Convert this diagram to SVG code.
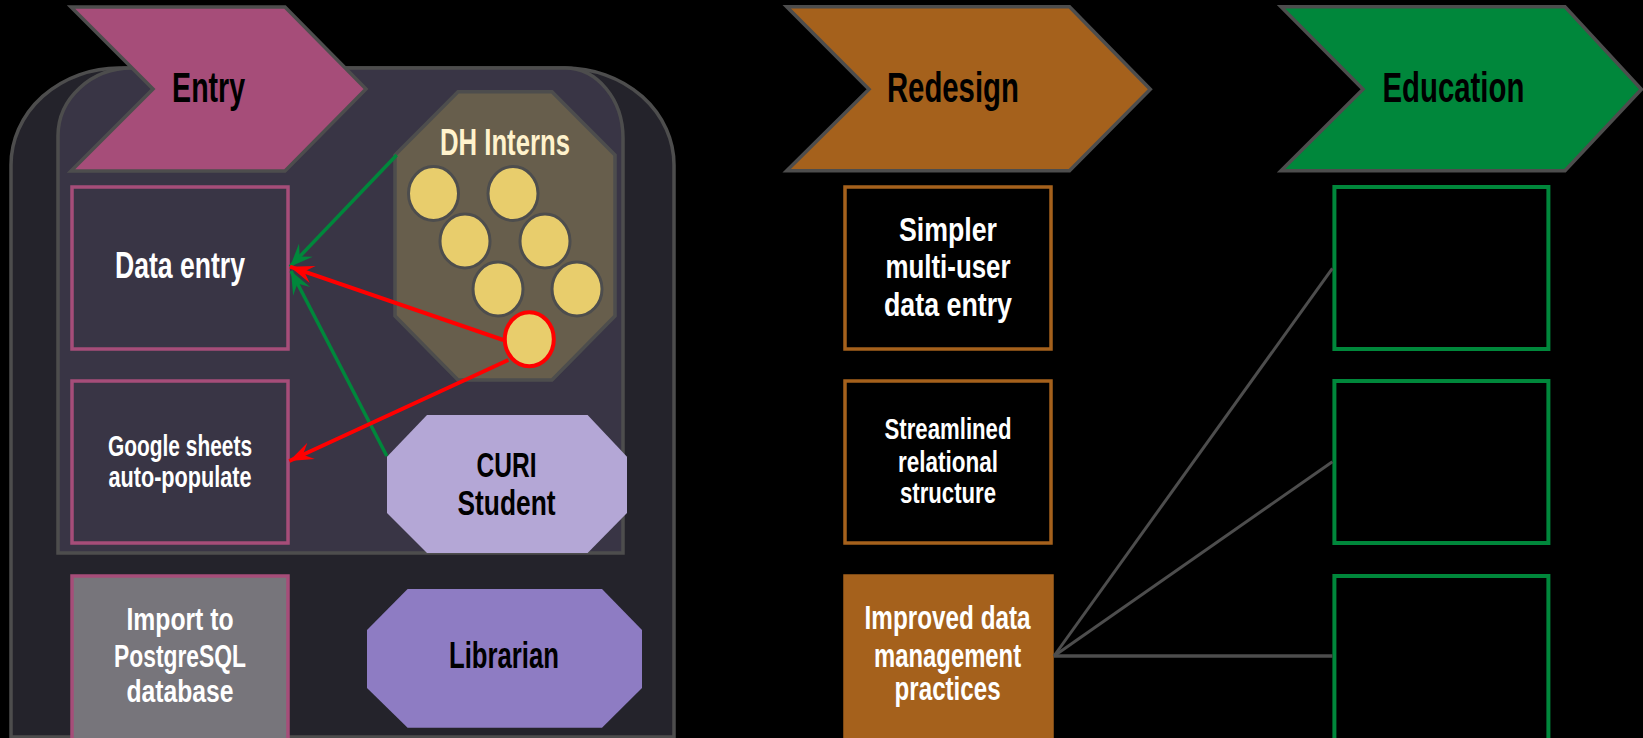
<svg xmlns="http://www.w3.org/2000/svg" width="1643" height="738" viewBox="0 0 1643 738">
<style>
text{font-family:"Liberation Sans Narrow","Liberation Sans",Arial,sans-serif;text-anchor:middle;font-weight:bold}
.hd{font-size:42px;fill:#000}
.wt{fill:#fff}
.bk{fill:#000}
.gs{stroke:#4d4d4d;stroke-width:3.5;stroke-linejoin:miter}
.mg{fill:#393545;stroke:#a64d79;stroke-width:3.5}
.or{fill:#000;stroke:#a5611c;stroke-width:3.5}
.gr{fill:#000;stroke:#00873b;stroke-width:4}
.dot{fill:#e8cd6c;stroke:#4d4d4d;stroke-width:3}
</style>
<defs>
<marker id="ahR" markerUnits="userSpaceOnUse" markerWidth="30" markerHeight="24" viewBox="-27 -12 30 24" refX="0" refY="0" orient="auto">
<path d="M0,0 L-24,-9 L-15,0 L-24,9 Z" fill="#ff0000"/>
</marker>
<marker id="ahG" markerUnits="userSpaceOnUse" markerWidth="30" markerHeight="24" viewBox="-27 -12 30 24" refX="0" refY="0" orient="auto">
<path d="M0,0 L-23,-9.5 L-14,0 L-23,9.5 Z" fill="#00873b"/>
</marker>
</defs>
<rect width="1643" height="738" fill="#000"/>

<g id="entry-lane">
<path class="gs" d="M11,740 L11,165 A108,97 0 0 1 119,68 L565,68 A109,97 0 0 1 674,165 L674,737 L11,737" fill="#24232b"/>
<path class="gs" d="M58,553 L58,136 A74,68 0 0 1 132,68 L565,68 A58,70 0 0 1 623,138 L623,553 Z" fill="#393545"/>
</g>

<g id="entry">
<path class="gs" d="M71,7 L285,7 L366,89 L285,171 L71,171 L153,89 Z" fill="#a64d79"/>
<text class="hd" x="208.6" y="102" textLength="73" lengthAdjust="spacingAndGlyphs">Entry</text>
</g>

<g id="data-entry">
<rect class="mg" x="72" y="187" width="216" height="162"/>
<text class="wt" x="180" y="278" font-size="37" textLength="130" lengthAdjust="spacingAndGlyphs">Data entry</text>
</g>

<g id="google-sheets">
<rect class="mg" x="72" y="381" width="216" height="162"/>
<text class="wt" x="180" y="456" font-size="29" textLength="144" lengthAdjust="spacingAndGlyphs">Google sheets</text>
<text class="wt" x="180" y="487" font-size="29" textLength="143" lengthAdjust="spacingAndGlyphs">auto-populate</text>
</g>

<g id="import">
<rect x="72" y="576" width="216" height="200" fill="#77757b" stroke="#a64d79" stroke-width="3.5"/>
<text class="wt" x="180" y="630" font-size="32" textLength="107" lengthAdjust="spacingAndGlyphs">Import to</text>
<text class="wt" x="180" y="667" font-size="32" textLength="132" lengthAdjust="spacingAndGlyphs">PostgreSQL</text>
<text class="wt" x="180" y="702" font-size="32" textLength="107" lengthAdjust="spacingAndGlyphs">database</text>
</g>

<g id="dh-interns">
<path class="gs" d="M458,91.7 L552,91.7 L615,155 L615,316 L552,380 L458,380 L395,316 L395,155 Z" fill="#675e4c"/>
<text x="505" y="155" font-size="36" fill="#fff2cc" textLength="130" lengthAdjust="spacingAndGlyphs">DH Interns</text>
<ellipse class="dot" cx="433.5" cy="193.5" rx="25" ry="27"/>
<ellipse class="dot" cx="513" cy="193.5" rx="25" ry="27"/>
<ellipse class="dot" cx="465" cy="241" rx="25" ry="27"/>
<ellipse class="dot" cx="545" cy="241" rx="25" ry="27"/>
<ellipse class="dot" cx="498" cy="289" rx="25" ry="27"/>
<ellipse class="dot" cx="577" cy="289" rx="25" ry="27"/>
</g>

<g id="curi-student">
<path d="M427,415 L587.6,415 L627,456.7 L627,513 L587.6,553 L427,553 L387,513 L387,456.7 Z" fill="#b4a7d6"/>
<text class="bk" x="506.5" y="477" font-size="35" textLength="60" lengthAdjust="spacingAndGlyphs">CURI</text>
<text class="bk" x="506.5" y="515" font-size="35" textLength="98" lengthAdjust="spacingAndGlyphs">Student</text>
</g>

<g id="librarian">
<path d="M407.6,589 L602,589 L642,630 L642,688 L602,727.7 L407.6,727.7 L367,688 L367,630 Z" fill="#8e7cc3"/>
<text class="bk" x="504" y="668" font-size="37" textLength="110" lengthAdjust="spacingAndGlyphs">Librarian</text>
</g>

<g id="redesign">
<path class="gs" d="M786.7,6.7 L1069.5,6.7 L1150.3,89.3 L1069.5,170.7 L786.7,170.7 L869,89.3 Z" fill="#a5611c"/>
<text class="hd" x="952.9" y="102" textLength="132" lengthAdjust="spacingAndGlyphs">Redesign</text>
</g>

<g id="simpler">
<rect class="or" x="845" y="187" width="206" height="162"/>
<text class="wt" x="948" y="240.7" font-size="34" textLength="98" lengthAdjust="spacingAndGlyphs">Simpler</text>
<text class="wt" x="948" y="278.3" font-size="34" textLength="125" lengthAdjust="spacingAndGlyphs">multi-user</text>
<text class="wt" x="948" y="316" font-size="34" textLength="128" lengthAdjust="spacingAndGlyphs">data entry</text>
</g>

<g id="streamlined">
<rect class="or" x="845" y="381" width="206" height="162"/>
<text class="wt" x="948" y="439.3" font-size="29" textLength="127" lengthAdjust="spacingAndGlyphs">Streamlined</text>
<text class="wt" x="948" y="471.7" font-size="29" textLength="100" lengthAdjust="spacingAndGlyphs">relational</text>
<text class="wt" x="948" y="503.3" font-size="29" textLength="96" lengthAdjust="spacingAndGlyphs">structure</text>
</g>

<g id="improved">
<rect x="845" y="576" width="207" height="200" fill="#a5611c" stroke="#a5611c" stroke-width="3.5"/>
<text class="wt" x="947.6" y="629.3" font-size="32.5" textLength="166" lengthAdjust="spacingAndGlyphs">Improved data</text>
<text class="wt" x="947.6" y="666.7" font-size="32.5" textLength="147" lengthAdjust="spacingAndGlyphs">management</text>
<text class="wt" x="947.6" y="700" font-size="32.5" textLength="106" lengthAdjust="spacingAndGlyphs">practices</text>
</g>

<g id="education">
<path class="gs" d="M1281,6.7 L1565,6.7 L1641.4,89.3 L1565,170.7 L1281,170.7 L1363,89.3 Z" fill="#00873b"/>
<text class="hd" x="1453.4" y="102" textLength="142" lengthAdjust="spacingAndGlyphs">Education</text>
</g>

<g id="edu-1"><rect class="gr" x="1334.4" y="187" width="214" height="162"/></g>
<g id="edu-2"><rect class="gr" x="1334.4" y="381" width="214" height="162"/></g>
<g id="edu-3"><rect class="gr" x="1334.4" y="576" width="214" height="200"/></g>

<g id="connectors" fill="none" stroke-linecap="butt">
<line x1="396.7" y1="155" x2="290" y2="266.7" stroke="#00873b" stroke-width="3.5" marker-end="url(#ahG)"/>
<line x1="386.8" y1="456" x2="291" y2="271" stroke="#00873b" stroke-width="3.5" marker-end="url(#ahG)"/>
<line x1="503.3" y1="340" x2="290" y2="266.7" stroke="#ff0000" stroke-width="4" marker-end="url(#ahR)"/>
<line x1="508.3" y1="360" x2="289.3" y2="461" stroke="#ff0000" stroke-width="4" marker-end="url(#ahR)"/>
<line x1="1054" y1="656" x2="1332.4" y2="268.3" stroke="#4d4d4d" stroke-width="3"/>
<line x1="1054" y1="656" x2="1332.4" y2="461.7" stroke="#4d4d4d" stroke-width="3"/>
<line x1="1054" y1="656" x2="1332.4" y2="656" stroke="#4d4d4d" stroke-width="3.5"/>
</g>

<g id="dh-intern-active">
<ellipse cx="529.3" cy="339.3" rx="24.5" ry="27" fill="#e8cd6c" stroke="#ff0000" stroke-width="4"/>
</g>
</svg>
